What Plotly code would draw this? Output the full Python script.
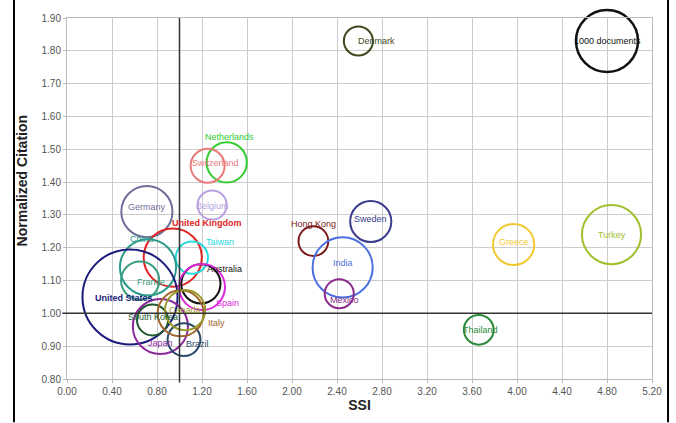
import plotly.graph_objects as go

countries = ["1000 documents", "Denmark", "Netherlands", "Switzerland", "Belgium", "Germany",
             "United Kingdom", "Taiwan", "China", "Australia", "Spain", "France",
             "United States", "South Korea", "Japan", "Brazil", "Italy", "Canada",
             "Hong Kong", "Sweden", "India", "Mexico", "Greece", "Turkey", "Thailand"]
ssi = [4.80, 2.59, 1.42, 1.25, 1.29, 0.71, 0.94, 1.11, 0.72, 1.19, 1.20, 0.65,
       0.56, 0.76, 0.83, 1.04, 1.01, 1.05, 2.19, 2.70, 2.45, 2.42, 3.97, 4.84, 3.66]
ncit = [1.83, 1.83, 1.46, 1.45, 1.33, 1.31, 1.17, 1.17, 1.14, 1.09, 1.08, 1.10,
        1.05, 0.98, 0.96, 0.92, 1.00, 1.01, 1.22, 1.28, 1.14, 1.06, 1.21, 1.24, 0.95]
documents = [1000, 220, 420, 300, 220, 680, 880, 270, 820, 400, 550, 380,
             2350, 250, 790, 280, 550, 420, 230, 440, 940, 220, 440, 910, 230]

x_ticks = [0.0, 0.4, 0.8, 1.2, 1.6, 2.0, 2.4, 2.8, 3.2, 3.6, 4.0, 4.4, 4.8, 5.2]
y_ticks = [0.8, 0.9, 1.0, 1.1, 1.2, 1.3, 1.4, 1.5, 1.6, 1.7, 1.8, 1.9]

colors = ["#111111", "#3d4a1e", "#33cc33", "#e87a7a", "#b9a0e0", "#6e6e98",
          "#e02424", "#2ad8dc", "#2a9a8a", "#111111", "#dd28dd", "#3a9e80",
          "#1a1a7a", "#1e5a2e", "#8a2a9a", "#2a4a6a", "#a0642a", "#9a9a2a",
          "#7a1a1a", "#3a3a8e", "#4a70e0", "#8a2a8a", "#f0c830", "#a0c030", "#2a8a3a"]
# label offsets in pixels (dx right, dy down)
label_dx = [0, 18, 3, 8, 0, 0, 34, 28, -6, 24, 25, 11, -6, 0, 0, 13, 36, 0, 0, 0, 0, 5, 0, 0, 2]
label_dy = [0, 0, -25, -3, 1, -5, -35, -16, -28, -15, 16, 1, 1, -3, 17, 4, 10, 0, -17, -2, -4, 6, -2, 0, 0]
bold = ["United Kingdom", "United States"]

sizeref = 2.0 * 1000 / (62 ** 2)

fig = go.Figure()
fig.add_trace(go.Scatter(
    x=ssi, y=ncit, mode="markers",
    marker=dict(size=documents, sizemode="area", sizeref=sizeref, opacity=1,
                color="rgba(0,0,0,0)",
                line=dict(color=colors, width=[2.5] + [2] * (len(colors) - 1))),
    hovertext=countries, showlegend=False, cliponaxis=False,
))

for i, name in enumerate(countries):
    txt = "<b>%s</b>" % name if name in bold else name
    fig.add_annotation(x=ssi[i], y=ncit[i], text=txt, showarrow=False,
                       xshift=label_dx[i], yshift=-label_dy[i],
                       font=dict(family="Liberation Sans, Arial", size=9, color=colors[i]))

# crossing reference axes at SSI=1 and Normalized Citation=1
fig.add_shape(type="line", xref="x", yref="paper", x0=1, x1=1, y0=-0.01, y1=1,
              line=dict(color="#333333", width=1.5))
fig.add_shape(type="line", xref="paper", yref="y", x0=-0.008, x1=1, y0=1, y1=1,
              line=dict(color="#333333", width=1.5))

# outer black frame (left and right)
for xp in [-0.0906, 1.0274]:
    fig.add_shape(type="line", xref="paper", yref="paper", x0=xp, x1=xp, y0=-0.12, y1=1.05,
                  line=dict(color="#000000", width=2))

fig.add_annotation(xref="paper", yref="paper", x=-0.077, y=0.55, text="<b>Normalized Citation</b>",
                   textangle=-90, showarrow=False, xanchor="center", yanchor="middle",
                   font=dict(family="Liberation Sans, Arial", size=14, color="#222222"))

fig.update_layout(
    width=676, height=423,
    margin=dict(l=67, r=24, t=15, b=43),
    paper_bgcolor="white", plot_bgcolor="white",
    font=dict(family="Liberation Sans, Arial", color="#555555"),
    xaxis=dict(range=[0, 5.2], tickvals=x_ticks, tickformat=".2f",
               showgrid=True, gridcolor="#cccccc", gridwidth=1,
               showline=True, linecolor="#bbbbbb", mirror=True,
               ticks="outside", ticklen=3, tickcolor="#bbbbbb",
               tickfont=dict(size=10, color="#555555"), zeroline=False,
               title=dict(text="<b>SSI</b>", font=dict(size=14, color="#222222"), standoff=4)),
    yaxis=dict(range=[0.8, 1.9], tickvals=y_ticks, tickformat=".2f",
               showgrid=True, gridcolor="#cccccc", gridwidth=1,
               showline=True, linecolor="#bbbbbb", mirror=True,
               ticks="outside", ticklen=3, tickcolor="#bbbbbb",
               tickfont=dict(size=10, color="#555555"), zeroline=False),
)

fig.write_html("out.html", config={"displayModeBar": False},
               post_script="document.body.style.margin='0';document.body.style.overflow='hidden';")
